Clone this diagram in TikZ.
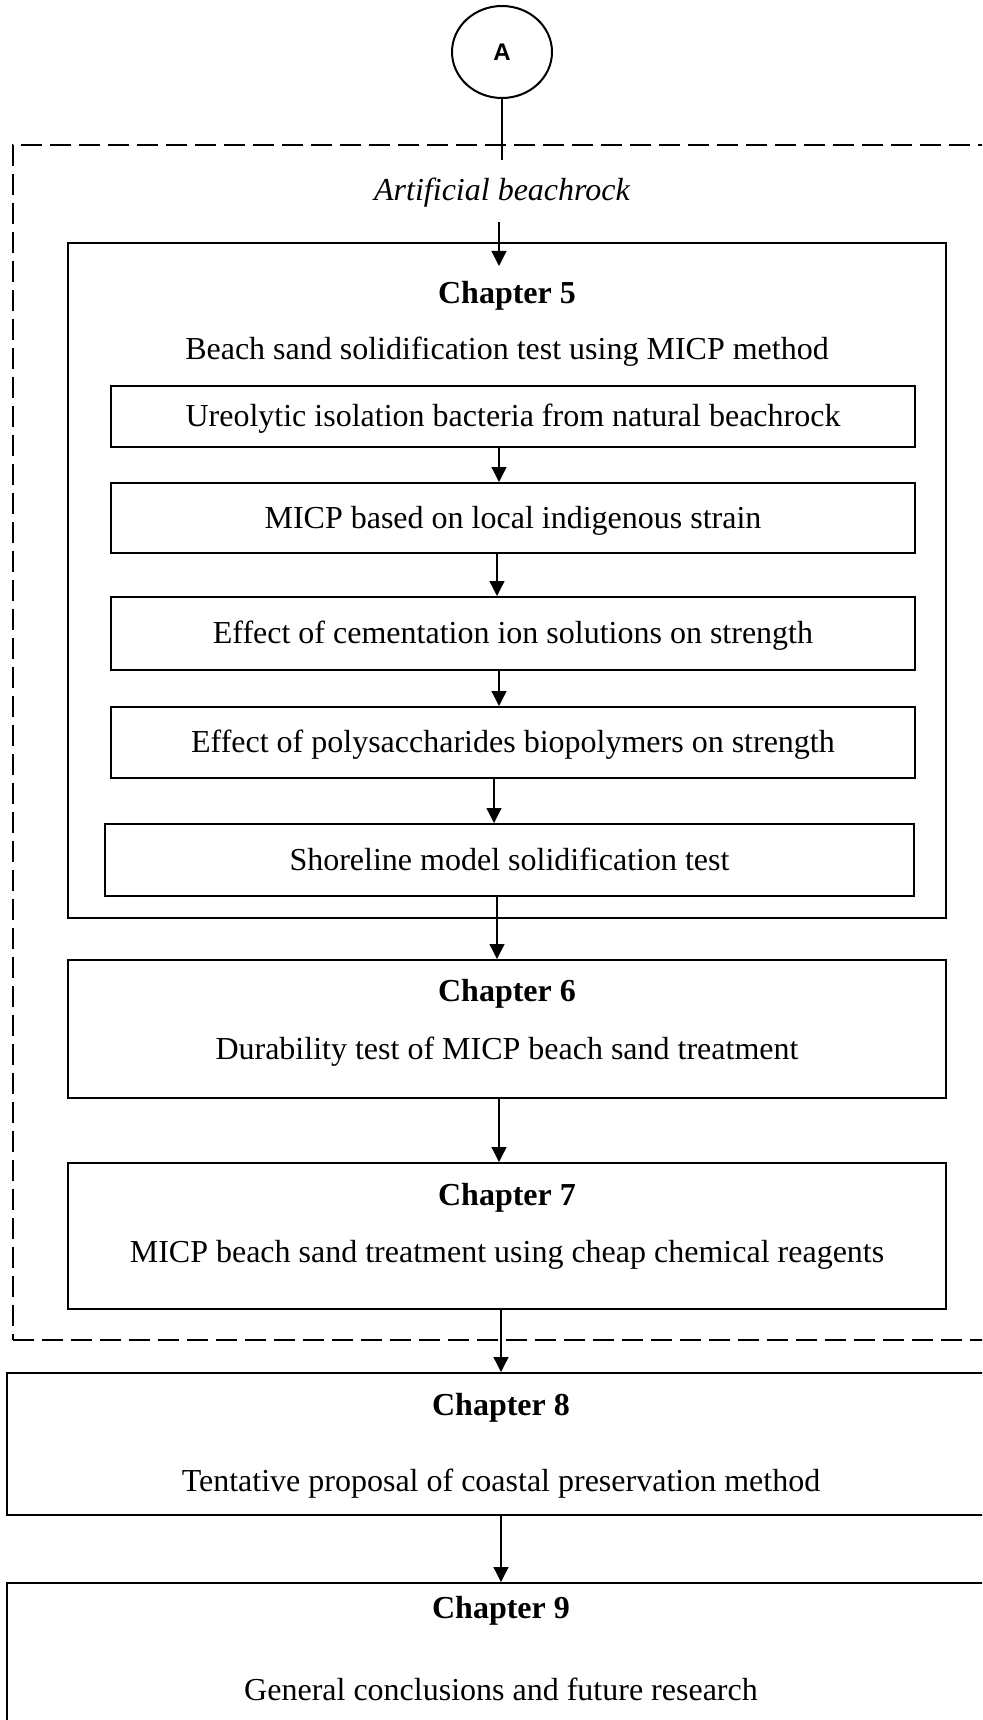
\documentclass[tikz,border=0pt]{standalone}
\usepackage{fontspec}
\setmainfont{Liberation Serif}
\newfontfamily\labelfont{Liberation Sans}
\usetikzlibrary{arrows.meta,shapes.geometric}
\newcommand{\txt}{\fontsize{32}{38}\selectfont}

\begin{document}
\begin{tikzpicture}[
	x=1pt, y=-1pt,
	every node/.style={inner sep=0pt, font=\txt, text height=22pt, text depth=2pt},
	box/.style={rectangle, draw, line width=2pt},
	frame/.style={rectangle, draw, line width=2.3pt, dash pattern=on 21pt off 8pt},
	arr/.style={line width=1.3pt, -{Triangle[length=15pt,width=15pt]}},
	]
\useasboundingbox (0,0) rectangle (982,1720);
\clip (0,0) rectangle (982,1720);

\node[ellipse, draw, line width=2pt, minimum width=100pt, minimum height=92pt, text height=17pt, text depth=0pt] (A) at (502,52) {\labelfont\bfseries\fontsize{24}{28}\selectfont A};
\node[frame, anchor=north west, minimum width=983pt, minimum height=1195pt] (grp) at (12,144) {};
\node[minimum height=62pt] (art) at (502,191) {\itshape Artificial beachrock};

% chapter 5 and its steps
\node[box, minimum width=878pt, minimum height=675pt] (ch5) at (507,580.5) {};
\node (t5) at (507,293) {\bfseries Chapter 5};
\node (d5) at (507,349) {Beach sand solidification test using MICP method};
\node[box, minimum width=804pt, minimum height=61pt] (s1) at (513,416.5) {Ureolytic isolation bacteria from natural beachrock};
\node[box, minimum width=804pt, minimum height=70pt] (s2) at (513,518) {MICP based on local indigenous strain};
\node[box, minimum width=804pt, minimum height=73pt] (s3) at (513,633.5) {Effect of cementation ion solutions on strength};
\node[box, minimum width=804pt, minimum height=71pt] (s4) at (513,742.5) {Effect of polysaccharides biopolymers on strength};
\node[box, minimum width=809pt, minimum height=72pt] (s5) at (509.5,860) {Shoreline model solidification test};

% chapters 6 to 9
\node[box, minimum width=878pt, minimum height=138pt] (ch6) at (507,1029) {};
\node (t6) at (507,991) {\bfseries Chapter 6};
\node (d6) at (507,1049) {Durability test of MICP beach sand treatment};
\node[box, minimum width=878pt, minimum height=146pt] (ch7) at (507,1236) {};
\node (t7) at (507,1195) {\bfseries Chapter 7};
\node (d7) at (507,1252) {MICP beach sand treatment using cheap chemical reagents};
\node[box, minimum width=988pt, minimum height=142pt] (ch8) at (501,1444) {};
\node (t8) at (501,1405) {\bfseries Chapter 8};
\node (d8) at (501,1481) {Tentative proposal of coastal preservation method};
\node[box, minimum width=988pt, minimum height=177pt] (ch9) at (501,1671.5) {};
\node (t9) at (501,1608) {\bfseries Chapter 9};
\node (d9) at (501,1690) {General conclusions and future research};

\draw[line width=1.3pt] (A) -- (art);
\draw[arr] ([xshift=-3pt]art.south) -- ([xshift=-8pt,yshift=-24pt]ch5.north);
\draw[arr] ([xshift=-14pt]s1.south) -- ([xshift=-14pt]s2.north);
\draw[arr] ([xshift=-16pt]s2.south) -- ([xshift=-16pt]s3.north);
\draw[arr] ([xshift=-14pt]s3.south) -- ([xshift=-14pt]s4.north);
\draw[arr] ([xshift=-19pt]s4.south) -- ([xshift=-15.5pt]s5.north);
\draw[arr] ([xshift=-12.5pt]s5.south) -- ([xshift=-10pt]ch6.north);
\draw[arr] ([xshift=-8pt]ch6.south) -- ([xshift=-8pt]ch7.north);
\draw[arr] ([xshift=-6pt]ch7.south) -- (ch8.north);
\draw[arr] (ch8) -- (ch9);
\end{tikzpicture}
\end{document}
